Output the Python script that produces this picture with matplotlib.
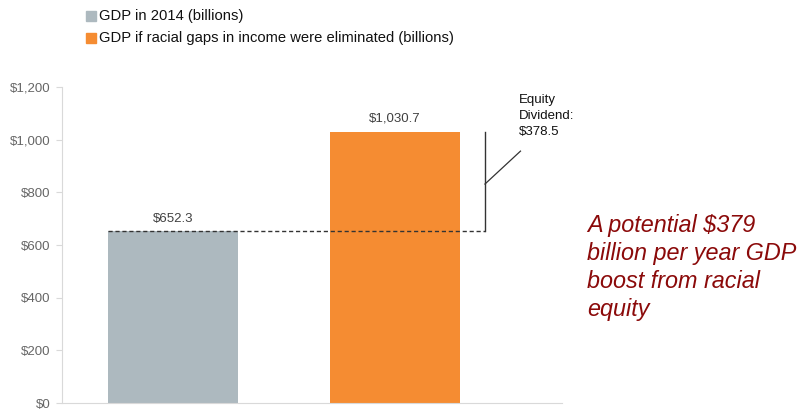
import matplotlib.pyplot as plt
from matplotlib.patches import Rectangle

plt.rcParams['font.family'] = ['Liberation Sans', 'DejaVu Sans']

series = ['GDP in 2014 (billions)', 'GDP if racial gaps in income were eliminated (billions)']
values = [652.3, 1030.7]
bar_labels = ['$652.3', '$1,030.7']
colors = ['#adb9bf', '#f58c32']
yticks = [0, 200, 400, 600, 800, 1000, 1200]
ytick_labels = ['$0', '$200', '$400', '$600', '$800', '$1,000', '$1,200']
dividend_text = 'Equity\nDividend:\n$378.5'
callout = 'A potential $379\nbillion per year GDP\nboost from racial\nequity'

fig = plt.figure(figsize=(8.07, 4.11), dpi=100)
ax = fig.add_axes([62/807, 8/411, 500/807, 316/411])

x = [0, 1]
bars = ax.bar(x, values, width=0.585, color=colors, zorder=2)
for xi, v, lab in zip(x, values, bar_labels):
    ax.text(xi, v + 25, lab, ha='center', va='bottom', fontsize=9.5, color='#404040')

# dashed baseline from first bar across to the bracket
bx = 1.405
ax.plot([x[0] - 0.2925, bx], [values[0], values[0]], ls=(0, (3, 2)), color='#333333', lw=1, zorder=3)
ax.plot([bx, bx], [values[0], values[1]], color='#333333', lw=1, zorder=3)
mid = (values[0] + values[1]) / 2
ax.plot([bx, 1.565], [mid - 10, mid + 115], color='#333333', lw=0.9, clip_on=False)
ax.text(1.56, 1172, dividend_text, ha='left', va='top', fontsize=9.5, color='#111111',
        linespacing=1.45)

ax.set_xlim(-0.5, 1.752)
ax.set_ylim(0, 1200)
ax.set_yticks(yticks)
ax.set_yticklabels(ytick_labels, fontsize=9.5, color='#666666')
ax.set_xticks([])
for s in ['top', 'right']:
    ax.spines[s].set_visible(False)
for s in ['left', 'bottom']:
    ax.spines[s].set_color('#d9d9d9')
ax.tick_params(axis='y', length=4, color='#d9d9d9', pad=4)

# legend
for i, (lab, c) in enumerate(zip(series, colors)):
    yy = 1 - (16 + 22 * i) / 411
    fig.patches.append(Rectangle((86/807, yy - 5/411), 10/807, 10/411, color=c,
                                 transform=fig.transFigure, figure=fig))
    fig.text(99/807, yy, lab, color='#111111', fontsize=10.6, va='center', ha='left')

fig.text(587/807, 1 - 214/411, callout, color='#8b0a0a', fontsize=16.8, style='italic',
         va='top', ha='left', linespacing=1.28)

fig.savefig('out.png', dpi=100)
